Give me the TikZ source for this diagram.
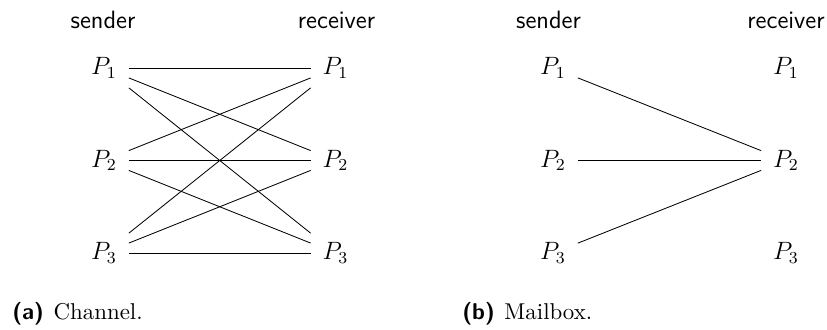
\documentclass[tikz,border=0pt]{standalone}
\begin{document}
\begin{tikzpicture}[x=0.4785pt,y=-0.4785pt,
  proc/.style={inner sep=0pt, minimum width=23.4pt, minimum height=21pt, font=\fontsize{12}{14.4}\selectfont},
  head/.style={anchor=base, inner sep=0pt, font=\fontsize{12}{14.4}\selectfont\sffamily},
  captext/.style={anchor=base west, inner sep=0pt, font=\fontsize{10.95}{13.6}\selectfont},
  link/.style={draw, line width=0.4pt}]
\useasboundingbox (0,0) rectangle (827,329);
% (a) Channel
\node[head] (hs1) at (103,28) {sender};
\node[head] (hr1) at (336.5,28) {receiver};
\node[proc] (a1) at (104,68) {$P_1$};
\node[proc] (a2) at (104,160.5) {$P_2$};
\node[proc] (a3) at (104,253) {$P_3$};
\node[proc] (b1) at (335.5,68) {$P_1$};
\node[proc] (b2) at (335.5,160.5) {$P_2$};
\node[proc] (b3) at (335.5,253) {$P_3$};
\foreach \i in {1,2,3}{
  \foreach \j in {1,2,3}{
    \draw[link] (a\i) -- (b\j);
  }
}
\node[captext] (capa) at (12,319) {{\sffamily\bfseries (a)}\hspace{4.6pt}Channel.};
% (b) Mailbox
\node[head] (hs2) at (548.5,28) {sender};
\node[head] (hr2) at (786,28) {receiver};
\node[proc] (c1) at (553,68) {$P_1$};
\node[proc] (c2) at (553,160.5) {$P_2$};
\node[proc] (c3) at (553,253) {$P_3$};
\node[proc] (d1) at (786,68) {$P_1$};
\node[proc] (d2) at (786,160.5) {$P_2$};
\node[proc] (d3) at (786,253) {$P_3$};
\draw[link] (c1) -- (d2);
\draw[link] (c2) -- (d2);
\draw[link] (c3) -- (d2);
\node[captext] (capb) at (462,319) {{\sffamily\bfseries (b)}\hspace{4.6pt}Mailbox.};
\end{tikzpicture}
\end{document}
